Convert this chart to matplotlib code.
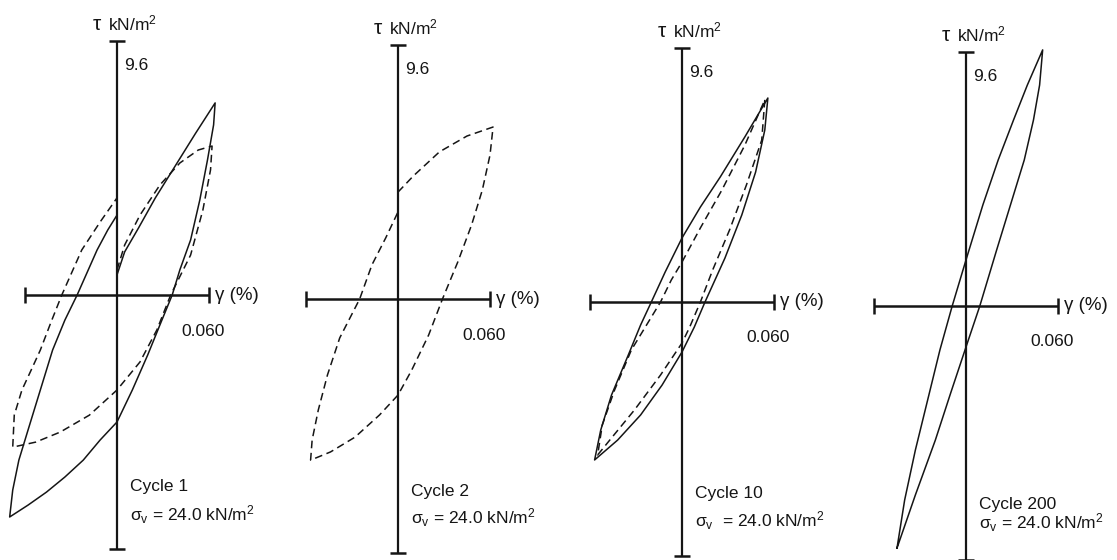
import matplotlib.pyplot as plt

plt.rcParams['font.family'] = ['Liberation Sans', 'DejaVu Sans']
plt.rcParams['mathtext.fontset'] = 'custom'
plt.rcParams['mathtext.rm'] = 'Liberation Sans'
plt.rcParams['mathtext.it'] = 'Liberation Sans:italic'

# axis range of every panel: shear strain (%) and shear stress (kN/m2)
GMAX = 0.060
TMAX = 9.6

cycle_names = ['Cycle 1', 'Cycle 2', 'Cycle 10', 'Cycle 200']
sigma_texts = ['σ$_\\mathrm{v}$ = 24.0 kN/m$^2$',
               'σ$_\\mathrm{v}$ = 24.0 kN/m$^2$',
               'σ$_\\mathrm{v}$  = 24.0 kN/m$^2$',
               'σ$_\\mathrm{v}$ = 24.0 kN/m$^2$']

# cycle 1, solid loop
c1_solid_g = [0.000, 0.005, 0.014, 0.025, 0.038, 0.051, 0.064,
              0.063, 0.059, 0.054, 0.048, 0.041, 0.036, 0.028, 0.020, 0.010, 0.000,
              -0.011, -0.022, -0.034, -0.046, -0.058, -0.070,
              -0.068, -0.064, -0.058, -0.050, -0.042, -0.034, -0.026, -0.013, -0.006, 0.000]
c1_solid_t = [0.76, 1.63, 2.53, 3.67, 4.88, 6.09, 7.26,
              6.43, 5.10, 3.59, 2.08, 0.95, 0.00, -1.13, -2.27, -3.59, -4.80,
              -5.48, -6.24, -6.88, -7.45, -7.94, -8.39,
              -7.37, -6.24, -5.10, -3.59, -2.08, -0.95, 0.00, 1.70, 2.46, 3.02]
# cycle 1, dashed loop
c1_dash_g = [0.000, 0.005, 0.015, 0.028, 0.041, 0.053, 0.062,
             0.061, 0.056, 0.048, 0.035, 0.026, 0.015, 0.000,
             -0.018, -0.037, -0.053, -0.068,
             -0.067, -0.062, -0.056, -0.050, -0.043, -0.036, -0.023, -0.011, 0.000]
c1_dash_t = [0.95, 1.89, 3.02, 4.16, 4.99, 5.48, 5.63,
             4.73, 3.21, 1.51, 0.00, -1.32, -2.53, -3.59,
             -4.54, -5.18, -5.56, -5.75,
             -4.54, -3.59, -2.84, -2.08, -1.02, 0.00, 1.70, 2.76, 3.67]

# cycle 2, dashed loop
c2_dash_g = [0.000, 0.010, 0.027, 0.045, 0.062,
             0.060, 0.055, 0.048, 0.039, 0.029, 0.020, 0.009, 0.000,
             -0.012, -0.028, -0.044, -0.057,
             -0.056, -0.052, -0.046, -0.038, -0.025, -0.017, -0.008, 0.000]
c2_dash_t = [4.04, 4.65, 5.56, 6.16, 6.50,
             5.44, 4.12, 2.80, 1.40, 0.00, -1.36, -2.68, -3.63,
             -4.38, -5.22, -5.78, -6.09,
             -5.33, -4.20, -2.87, -1.47, 0.00, 1.29, 2.31, 3.29]

# cycle 10, solid loop
c10_solid_g = [0.000, 0.012, 0.025, 0.041, 0.056,
               0.054, 0.048, 0.039, 0.028, 0.015, 0.008, 0.000,
               -0.013, -0.027, -0.042, -0.057,
               -0.053, -0.046, -0.035, -0.027, -0.020, -0.011, 0.000]
c10_solid_t = [2.42, 3.59, 4.73, 6.24, 7.71,
               6.50, 4.91, 3.29, 1.66, 0.00, -0.95, -1.89,
               -3.14, -4.27, -5.22, -5.97,
               -4.84, -3.52, -2.00, -0.87, 0.00, 1.13, 2.42]
# cycle 10, dashed loop
c10_dash_g = [0.054, 0.052, 0.042, 0.031, 0.020, 0.012, 0.005, 0.000,
              -0.014, -0.031, -0.046, -0.055,
              -0.052, -0.044, -0.033, -0.014, -0.007, 0.000, 0.012, 0.026, 0.041, 0.054]
c10_dash_t = [7.64, 6.12, 4.42, 2.72, 1.21, 0.00, -0.95, -1.55,
              -2.76, -4.08, -5.14, -5.78,
              -4.65, -3.33, -1.81, 0.00, 0.83, 1.51, 2.80, 4.23, 5.93, 7.64]

# cycle 200, solid loop
c200_solid_g = [-0.045, -0.040, -0.033, -0.025, -0.017, -0.009, 0.000, 0.011, 0.021,
                0.031, 0.040, 0.050,
                0.048, 0.044, 0.038, 0.029, 0.020, 0.009, 0.000, -0.010, -0.020,
                -0.033, -0.045]
c200_solid_t = [-9.15, -7.33, -5.44, -3.55, -1.66, 0.00, 1.74, 3.82, 5.52,
                7.03, 8.35, 9.68,
                8.35, 7.03, 5.52, 3.82, 2.12, 0.00, -1.55, -3.29, -5.07,
                -7.14, -9.15]

solid_g = [c1_solid_g, None, c10_solid_g, c200_solid_g]
solid_t = [c1_solid_t, None, c10_solid_t, c200_solid_t]
dash_g = [c1_dash_g, c2_dash_g, c10_dash_g, None]
dash_t = [c1_dash_t, c2_dash_t, c10_dash_t, None]

# where each panel's origin sits on the page (pixels from top-left)
origins = [(117, 295), (398, 299), (682, 302), (966, 306)]
cycle_dy = [196, 197, 196, 203]
sigma_dy = [226, 225, 225, 223]

W, H = 1117, 560
ink = '#151515'
fig = plt.figure(figsize=(W / 100, H / 100), dpi=100)
kg = GMAX / 92.0
kt = TMAX / 254.0

for i, (ox, oy) in enumerate(origins):
    ax = fig.add_axes([(ox - 140) / W, 0, 280 / W, 1])
    ax.set_xlim(-140 * kg, 140 * kg)
    ax.set_ylim(-(H - oy) * kt, oy * kt)
    ax.axis('off')

    # axes drawn as plain lines with end bars
    ax.plot([-GMAX, GMAX], [0, 0], color=ink, lw=1.8, solid_capstyle='butt')
    ax.plot([-GMAX, GMAX], [0, 0], ls='none', marker='|', ms=12, mew=1.8, color=ink)
    ax.plot([0, 0], [-TMAX, TMAX], color=ink, lw=1.6, solid_capstyle='butt', clip_on=False)
    ax.plot([0, 0], [-TMAX, TMAX], ls='none', marker='_', ms=12, mew=1.8, color=ink,
            clip_on=False)

    if solid_g[i] is not None:
        ax.plot(solid_g[i], solid_t[i], color=ink, lw=1.1)
    if dash_g[i] is not None:
        ax.plot(dash_g[i], dash_t[i], color=ink, lw=1.1, ls=(0, (5, 3)))

    fs = 12.5
    ax.annotate('τ', xy=(0, TMAX), xytext=(-20, 11), textcoords='offset pixels',
                ha='center', va='baseline', fontsize=15, color=ink)
    ax.annotate('kN/m$^2$', xy=(0, TMAX), xytext=(-9, 11), textcoords='offset pixels',
                ha='left', va='baseline', fontsize=fs, color=ink)
    ax.annotate('9.6', xy=(0, TMAX), xytext=(7, -29), textcoords='offset pixels',
                ha='left', va='baseline', fontsize=fs, color=ink)
    ax.annotate('γ (%)', xy=(GMAX, 0), xytext=(6, 0), textcoords='offset pixels',
                ha='left', va='center', fontsize=fs + 1, color=ink)
    ax.annotate('0.060', xy=(GMAX, 0), xytext=(-6, -36), textcoords='offset pixels',
                ha='center', va='center', fontsize=fs, color=ink)
    ax.annotate(cycle_names[i], xy=(0, 0), xytext=(13, -cycle_dy[i]),
                textcoords='offset pixels', ha='left', va='baseline', fontsize=fs, color=ink)
    ax.annotate(sigma_texts[i], xy=(0, 0), xytext=(13, -sigma_dy[i]),
                textcoords='offset pixels', ha='left', va='baseline', fontsize=fs, color=ink)

fig.savefig('out.png', dpi=100)
